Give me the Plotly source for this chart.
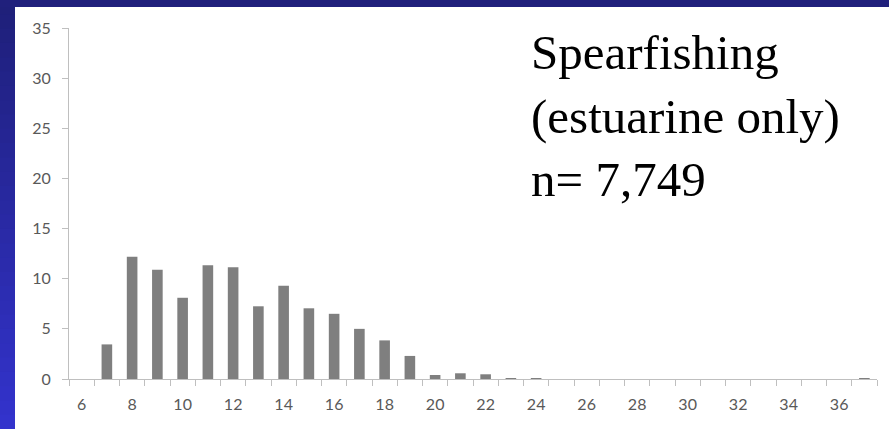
import plotly.graph_objects as go

categories = list(range(6, 38))
values = [0, 3.45, 12.2, 10.9, 8.1, 11.35, 11.15, 7.25, 9.3, 7.05, 6.5, 5.0, 3.85, 2.3,
          0.4, 0.57, 0.47, 0.1, 0.08, 0, 0, 0, 0, 0, 0, 0, 0, 0, 0, 0, 0, 0.1]
x_tick_labels = [str(v) for v in range(6, 37, 2)]
y_tick_values = list(range(0, 36, 5))
annotation_lines = ["Spearfishing", "(estuarine only)", "n= 7,749"]

W, H = 889, 429
L, R, T, B = 69, 12, 28, 50
pw, ph = W - L - R, H - T - B

def px_x(p):
    return (p - L) / pw

def px_y(p):
    return (H - B - p) / ph

fig = go.Figure()
fig.add_trace(go.Bar(
    x=categories, y=values, width=0.42,
    marker=dict(color="#7f7f7f", line=dict(width=0)),
    hoverinfo="x+y",
))

shapes = []
# left blue band with vertical gradient
n = 30
top_c = (0x1f, 0x20, 0x7a)
bot_c = (0x33, 0x33, 0xcc)
for i in range(n):
    t = i / (n - 1)
    c = tuple(int(top_c[k] + (bot_c[k] - top_c[k]) * t) for k in range(3))
    y0p = i * H / n
    y1p = (i + 1) * H / n + 1
    shapes.append(dict(type="rect", xref="paper", yref="paper", layer="above",
                       x0=px_x(0), x1=px_x(15), y0=px_y(y1p), y1=px_y(y0p),
                       fillcolor="rgb(%d,%d,%d)" % c, line=dict(width=0)))
shapes.append(dict(type="rect", xref="paper", yref="paper", layer="above",
                   x0=px_x(0), x1=px_x(W), y0=px_y(7), y1=px_y(0),
                   fillcolor="#20207c", line=dict(width=0)))

fig.add_annotation(
    xref="paper", yref="paper", x=px_x(529), y=px_y(23),
    xanchor="left", yanchor="top", align="left", showarrow=False,
    text="<br>".join(annotation_lines),
    font=dict(family="Liberation Serif", size=49, color="#000000"),
)

axis_font = dict(family="Lato", size=16, color="#595959")
fig.update_layout(
    width=W, height=H,
    margin=dict(l=L, r=R, t=T, b=B),
    paper_bgcolor="white", plot_bgcolor="white",
    showlegend=False,
    shapes=shapes,
    xaxis=dict(
        range=[5.5, 37.5], tickmode="array",
        tickvals=[int(v) for v in x_tick_labels], ticktext=x_tick_labels,
        ticks="outside", ticklen=11, tickcolor="rgba(0,0,0,0)",
        showline=True, linecolor="#bfbfbf", linewidth=1,
        showgrid=False, zeroline=False, tickfont=axis_font,
        minor=dict(tick0=5.5, dtick=1, ticks="outside", ticklen=6,
                   tickcolor="#bfbfbf", showgrid=False),
    ),
    yaxis=dict(
        range=[0, 35], tickmode="array", tickvals=y_tick_values,
        ticks="outside", ticklen=6, tickcolor="#bfbfbf",
        showline=True, linecolor="#bfbfbf", linewidth=1,
        showgrid=False, zeroline=False, tickfont=axis_font,
        ticklabelstandoff=8,
    ),
)

fig.write_html("out.html", config={"displayModeBar": False},
               post_script="document.body.style.margin='0';document.body.style.padding='0';")
